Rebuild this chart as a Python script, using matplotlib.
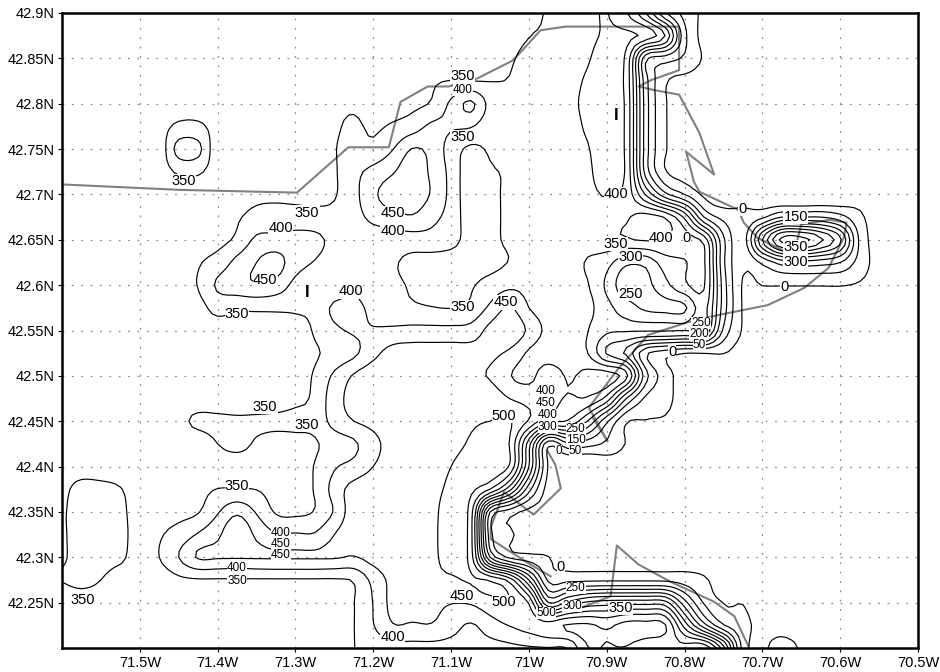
import numpy as np
import matplotlib
matplotlib.use("Agg")
import matplotlib.pyplot as plt

plt.rcParams['font.family'] = ['Liberation Sans', 'DejaVu Sans']

# grid of the field, rows go from 42.9N down to 42.2N
lons = [-71.6 + 0.025 * i for i in range(45)]
lats = [42.9 - 0.025 * j for j in range(29)]

field = [
    [330]*24 + [345, 352, 365, 385, 402, 355, 250, 105, 35, -10] + [-20]*11,
    [330]*23 + [335, 349, 355, 368, 390, 405, 410, 385, 300, 65, -15] + [-20]*11,
    [330]*22 + [335, 345, 362, 370, 378, 396, 415, 390, 115, 75, 42, -5] + [-20]*11,
    [330]*18 + [335, 345, 351, 350, 349, 352, 368, 372, 385, 405, 420, 385, 120, 8, -15] + [-20]*12,
    [330]*6 + [335, 335] + [330]*5 + [335, 342, 344, 335, 332, 340, 355, 410, 460, 385, 365, 372, 375, 390, 408, 420, 390, 125, 5] + [-20]*13,
    [330]*5 + [335, 358, 358, 335] + [330]*4 + [335, 345, 356, 344, 356, 375, 410, 405, 404, 368, 360, 370, 375, 385, 405, 420, 390, 125, 5] + [-20]*13,
    [330]*5 + [320, 420, 415, 315] + [330]*4 + [335, 348, 365, 362, 398, 452, 435, 378, 340, 356, 365, 372, 375, 385, 397, 420, 390, 125, 5] + [-20]*13,
    [330]*6 + [356, 356] + [330]*6 + [345, 385, 415, 445, 480, 440, 385, 320, 345, 355, 372, 375, 380, 392, 420, 392, 130, 5] + [-20]*13,
    [330]*10 + [340, 342, 338, 335, 346, 385, 440, 475, 480, 445, 385, 320, 340, 358, 372, 375, 380, 390, 402, 385, 245, 115, 50, -10, -40, -20, -40, -60, -60, -60, -50, -20, -20, -20, -20],
    [330]*9 + [345, 365, 368, 370, 368, 365, 380, 415, 432, 445, 415, 380, 325, 340, 358, 372, 375, 380, 385, 390, 395, 420, 395, 290, 100, 35, 15, 40, 100, 100, 100, 70, 10, -20, -20, -20],
    [330]*8 + [335, 360, 410, 415, 418, 412, 385, 362, 368, 372, 376, 380, 365, 335, 340, 358, 368, 372, 375, 378, 385, 395, 405, 400, 375, 330, 110, 25, 250, 415, 420, 360, 260, 40, -20, -20, -20],
    [330]*7 + [346, 370, 415, 450, 470, 420, 397, 375, 365, 365, 355, 338, 330, 330, 330, 335, 352, 370, 375, 375, 345, 318, 262, 265, 325, 345, 358, 110, 10, 60, 120, 130, 120, 100, 30, -20, -20, -20],
    [330]*6 + [335, 352, 408, 430, 446, 432, 385, 365, 362, 385, 362, 358, 345, 330, 330, 345, 368, 388, 385, 375, 370, 354, 290, 215, 235, 285, 340, 355, 125, -5, 1, 2, 2, 2, 2, -5, -20, -20, -20],
    [330]*7 + [335, 365, 357, 358, 358, 358, 362, 410, 415, 385, 365, 358, 352, 349, 360, 410, 455, 400, 375, 370, 365, 315, 275, 240, 235, 240, 320, 125, -5] + [-20]*9,
    [330]*13 + [355, 390, 405, 404, 410, 415, 415, 415, 420, 465, 490, 440, 385, 375, 352, 310, 305, 305, 305, 300, 300, 90, -5] + [-20]*9,
    [330]*13 + [345, 365, 390, 435, 470, 475, 475, 475, 470, 462, 440, 392, 372, 368, 352, 245, 190, 60, 20, 1, 1, 1, -20] + [-20]*9,
    [330]*12 + [335, 355, 410, 455, 480, 482, 482, 482, 480, 462, 445, 403, 385, 430, 395, 415, 425, 365, 120, 25] + [-20]*13,
    [330]*12 + [340, 360, 430, 465, 485, 488, 488, 488, 490, 490, 485, 450, 432, 415, 396, 395, 330, 150, 40, 15] + [-20]*13,
    [330]*6 + [340, 358, 358, 356, 356, 358, 362, 365, 420, 450, 465, 482, 485, 488, 490, 495, 500, 505, 445, 360, 345, 250, 110, 6, -2, -5] + [-20]*13,
    [330]*8 + [350, 362, 345, 335, 335, 345, 372, 392, 435, 470, 485, 488, 490, 505, 530, 498, 270, 15, 90, 70, 40, -2] + [-20]*15,
    [330]*12 + [335, 352, 395, 415, 450, 475, 485, 488, 500, 520, 535, 495, 250, -5, -60, -60, -30] + [-20]*16,
    [340, 365, 362, 352, 330, 330, 332, 338, 351, 352, 349, 335, 338, 353, 420, 470, 485, 488, 488, 488, 508, 510, 450, 320, 120, -20] + [-20]*19,
    [345, 372, 375, 362, 325, 330, 335, 347, 395, 440, 395, 345, 340, 353, 405, 480, 488, 488, 488, 488, 520, 480, 100, 25, -15] + [-20]*20,
    [345, 370, 372, 365, 328, 345, 370, 405, 440, 490, 440, 405, 405, 405, 450, 478, 485, 488, 488, 488, 525, 475, 70, 10, -20] + [-20]*20,
    [345, 368, 370, 360, 325, 350, 400, 455, 455, 455, 455, 455, 455, 455, 455, 447, 470, 485, 488, 488, 520, 480, 150, 40, 15, 1, -20] + [-20]*18,
    [352, 362, 350, 325, 330, 325, 340, 345, 345, 345, 345, 345, 345, 345, 345, 355, 415, 465, 482, 488, 492, 505, 495, 430, 250, 40, 35, 38, 40, 40, 40, 38, 25, 6, -20] + [-20]*10,
    [325] + [330]*13 + [335, 349, 402, 465, 470, 465, 452, 455, 480, 502, 445, 200, 260, 310, 325, 330, 330, 320, 170, 45, -1, -1, -20] + [-20]*8,
    [330]*15 + [349, 398, 447, 445, 447, 420, 395, 425, 452, 472, 480, 505, 510, 490, 520, 520, 505, 330, 170, 55, 10, -8] + [-20]*8,
    [330]*15 + [349, 370, 385, 385, 385, 385, 385, 385, 390, 395, 398, 402, 497, 497, 497, 470, 455, 470, 490, 320, 30, -5, 20, -5] + [-20]*6,
]

levels = [0, 50, 100, 150, 200, 250, 300, 350, 400, 450, 500]

# map outlines
coast1_lon = [-71.6, -71.448, -71.298, -71.232, -71.18, -71.165, -71.13, -71.103, -71.066, -71.02, -70.985, -70.953, -70.807, -70.807, -70.843, -70.859, -70.839, -70.807, -70.781, -70.762, -70.798, -70.788, -70.781, -70.731, -70.724, -70.706, -70.68, -70.66, -70.65, -70.614, -70.592, -70.595, -70.615, -70.646, -70.693, -70.757, -70.796, -70.847, -70.886, -70.923, -70.899, -70.918]
coast1_lat = [42.711, 42.705, 42.702, 42.752, 42.752, 42.802, 42.819, 42.819, 42.828, 42.848, 42.881, 42.885, 42.885, 42.837, 42.826, 42.819, 42.815, 42.81, 42.768, 42.722, 42.747, 42.714, 42.703, 42.683, 42.669, 42.652, 42.641, 42.633, 42.667, 42.672, 42.669, 42.653, 42.619, 42.597, 42.578, 42.567, 42.559, 42.545, 42.507, 42.465, 42.428, 42.454]
coast2_lon = [-70.976, -70.966, -70.959, -70.994, -71.032, -71.049, -71.049, -70.998, -70.972]
coast2_lat = [42.417, 42.402, 42.376, 42.347, 42.372, 42.333, 42.32, 42.292, 42.279]
coast3_lon = [-70.937, -70.895, -70.887, -70.859, -70.818, -70.762, -70.736, -70.718]
coast3_lat = [42.243, 42.257, 42.313, 42.292, 42.273, 42.251, 42.235, 42.202]

# contour labels
label_text = ['350', '400', '350', '350', '400', '350', '450', '400', '400', '450', '350', '400', '450', '350',
              '350', '300', '250', '400', '0', '0', '150', '350', '300', '0', '250', '200', '50', '0',
              '350', '350', '400', '450', '500', '400', '300', '250', '150', '50', '0', '350', '400', '450',
              '450', '400', '350', '350', '0', '450', '500', '250', '300', '500', '350', '400']
label_lon = [-71.085, -71.085, -71.085, -71.444, -70.888, -71.285, -71.175, -71.175, -71.319, -71.339, -71.375, -71.229, -71.03, -71.085,
             -70.888, -70.869, -70.869, -70.83, -70.797, -70.726, -70.657, -70.657, -70.657, -70.672, -70.779, -70.781, -70.781, -70.816,
             -71.339, -71.285, -70.978, -70.978, -71.032, -70.976, -70.976, -70.94, -70.94, -70.94, -70.962, -71.375, -71.319, -71.319,
             -71.319, -71.375, -71.375, -71.573, -70.959, -71.086, -71.032, -70.94, -70.944, -70.978, -70.882, -71.175]
label_lat = [42.83, 42.815, 42.763, 42.715, 42.7, 42.68, 42.679, 42.66, 42.663, 42.606, 42.568, 42.593, 42.581, 42.576,
             42.645, 42.631, 42.59, 42.652, 42.652, 42.684, 42.675, 42.642, 42.626, 42.598, 42.558, 42.546, 42.534, 42.526,
             42.466, 42.446, 42.483, 42.47, 42.456, 42.457, 42.444, 42.441, 42.429, 42.417, 42.417, 42.379, 42.327, 42.315,
             42.303, 42.288, 42.274, 42.253, 42.289, 42.257, 42.251, 42.266, 42.246, 42.239, 42.244, 42.212]

# labels that sit in stacks get a smaller size
stacked = [1, 24, 25, 26, 30, 31, 33, 34, 35, 36, 37, 38, 40, 41, 42, 43, 44, 49, 50, 51]

x_ticks = [-71.5, -71.4, -71.3, -71.2, -71.1, -71.0, -70.9, -70.8, -70.7, -70.6, -70.5]
x_labels = ['71.5W', '71.4W', '71.3W', '71.2W', '71.1W', '71W', '70.9W', '70.8W', '70.7W', '70.6W', '70.5W']
y_ticks = [42.25, 42.3, 42.35, 42.4, 42.45, 42.5, 42.55, 42.6, 42.65, 42.7, 42.75, 42.8, 42.85, 42.9]
y_labels = ['42.25N', '42.3N', '42.35N', '42.4N', '42.45N', '42.5N', '42.55N', '42.6N', '42.65N', '42.7N', '42.75N', '42.8N', '42.85N', '42.9N']


def cubic_rows(z, n):
    # same cubic smoothing as the contour package, along axis 0
    z = np.vstack([z[0], z, z[-1]])
    out = []
    for j in range(1, z.shape[0] - 2):
        for k in range(n):
            t = k / n
            out.append(0.5 * (2 * z[j] + (z[j + 1] - z[j - 1]) * t
                              + (2 * z[j - 1] - 5 * z[j] + 4 * z[j + 1] - z[j + 2]) * t ** 2
                              + (3 * z[j] - z[j - 1] - 3 * z[j + 1] + z[j + 2]) * t ** 3))
    out.append(z[-2])
    return np.array(out)


n_sub = 4
z = np.array(field, dtype=float)
z = cubic_rows(cubic_rows(z, n_sub).T, n_sub).T
fine_lons = np.linspace(lons[0], lons[-1], z.shape[1])
fine_lats = np.linspace(lats[0], lats[-1], z.shape[0])

fig = plt.figure(figsize=(9.4, 6.72), dpi=100)
ax = fig.add_axes([62 / 940, 1 - 648 / 672, 856 / 940, 635 / 672])

ax.grid(True, color='#8c8c8c', linewidth=0.9, linestyle=(0, (1.5, 6)))
ax.set_axisbelow(True)

ax.plot(coast1_lon, coast1_lat, color='#808080', linewidth=1.5, zorder=2)
ax.plot(coast2_lon, coast2_lat, color='#808080', linewidth=1.5, zorder=2)
ax.plot(coast3_lon, coast3_lat, color='#808080', linewidth=1.5, zorder=2)

ax.contour(fine_lons, fine_lats, z, levels=levels, colors='black', linewidths=0.85, linestyles='solid', zorder=3)

for i, (t, x, y) in enumerate(zip(label_text, label_lon, label_lat)):
    size = 8.5 if i in stacked else 10.5
    ax.text(x, y, t, fontsize=size, color='black', ha='center', va='center', zorder=4,
            bbox=dict(facecolor='white', edgecolor='none', pad=0.1))

ax.text(-70.888, 42.787, 'I', fontsize=12, fontweight='bold', ha='center', va='center', zorder=4)
ax.text(-71.285, 42.592, 'I', fontsize=12, fontweight='bold', ha='center', va='center', zorder=4)

ax.set_xlim(-71.6, -70.5)
ax.set_ylim(42.2, 42.9)
ax.set_xticks(x_ticks)
ax.set_xticklabels(x_labels)
ax.set_yticks(y_ticks)
ax.set_yticklabels(y_labels)
ax.tick_params(length=3, width=0.8, labelsize=10.5, pad=2.5)
for s in ax.spines.values():
    s.set_linewidth(1.8)

fig.savefig('out.png', dpi=100)
